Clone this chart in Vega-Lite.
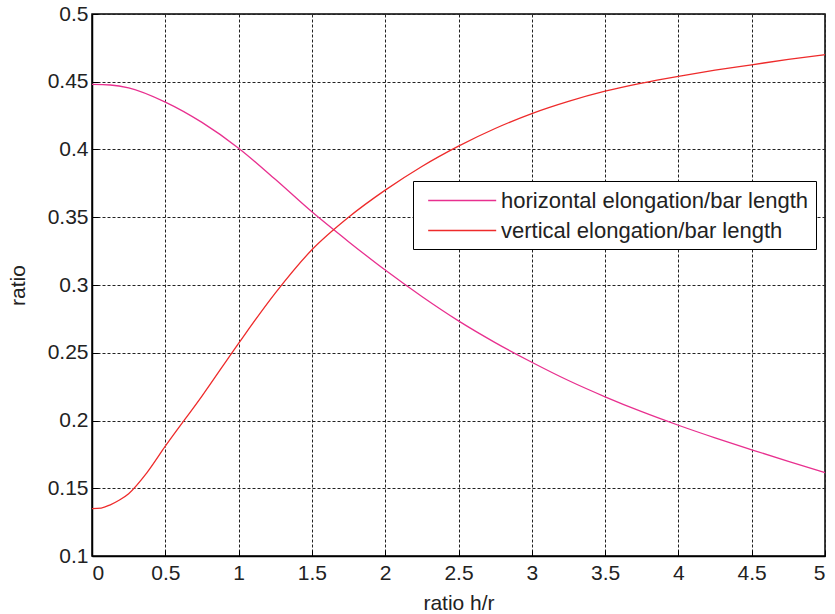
{
  "$schema": "https://vega.github.io/schema/vega-lite/v6.json",
  "width": 733,
  "height": 542,
  "autosize": {"type": "none"},
  "padding": {"left": 92, "top": 14, "right": 10, "bottom": 58},
  "background": "white",
  "config": {
    "font": "Liberation Sans",
    "view": {"stroke": "black", "strokeWidth": 1.5},
    "axis": {
      "labelFont": "Liberation Sans",
      "titleFont": "Liberation Sans",
      "labelFontSize": 21,
      "titleFontSize": 21,
      "labelColor": "#222",
      "titleColor": "#222",
      "titleFontWeight": "normal",
      "domainColor": "black",
      "domainWidth": 1.5,
      "tickColor": "black",
      "tickSize": -6,
      "grid": true,
      "gridColor": "#222",
      "gridDash": [3, 2],
      "gridWidth": 1,
      "gridOpacity": 1
    }
  },
  "data": {
    "values": [
      {"x": 0, "ratio": 0.448, "series": "horizontal elongation/bar length"},
      {"x": 0.125, "ratio": 0.4476, "series": "horizontal elongation/bar length"},
      {"x": 0.25, "ratio": 0.4455, "series": "horizontal elongation/bar length"},
      {"x": 0.5, "ratio": 0.435, "series": "horizontal elongation/bar length"},
      {"x": 0.75, "ratio": 0.42, "series": "horizontal elongation/bar length"},
      {"x": 1, "ratio": 0.401, "series": "horizontal elongation/bar length"},
      {"x": 1.25, "ratio": 0.378, "series": "horizontal elongation/bar length"},
      {"x": 1.5, "ratio": 0.354, "series": "horizontal elongation/bar length"},
      {"x": 1.75, "ratio": 0.332, "series": "horizontal elongation/bar length"},
      {"x": 2, "ratio": 0.311, "series": "horizontal elongation/bar length"},
      {"x": 2.25, "ratio": 0.2915, "series": "horizontal elongation/bar length"},
      {"x": 2.5, "ratio": 0.2735, "series": "horizontal elongation/bar length"},
      {"x": 2.75, "ratio": 0.2575, "series": "horizontal elongation/bar length"},
      {"x": 3, "ratio": 0.243, "series": "horizontal elongation/bar length"},
      {"x": 3.25, "ratio": 0.2295, "series": "horizontal elongation/bar length"},
      {"x": 3.5, "ratio": 0.2175, "series": "horizontal elongation/bar length"},
      {"x": 3.75, "ratio": 0.2065, "series": "horizontal elongation/bar length"},
      {"x": 4, "ratio": 0.1965, "series": "horizontal elongation/bar length"},
      {"x": 4.25, "ratio": 0.1872, "series": "horizontal elongation/bar length"},
      {"x": 4.5, "ratio": 0.1784, "series": "horizontal elongation/bar length"},
      {"x": 4.75, "ratio": 0.1698, "series": "horizontal elongation/bar length"},
      {"x": 5, "ratio": 0.1615, "series": "horizontal elongation/bar length"},
      {"x": 0, "ratio": 0.135, "series": "vertical elongation/bar length"},
      {"x": 0.0625, "ratio": 0.1354, "series": "vertical elongation/bar length"},
      {"x": 0.125, "ratio": 0.1378, "series": "vertical elongation/bar length"},
      {"x": 0.1875, "ratio": 0.1413, "series": "vertical elongation/bar length"},
      {"x": 0.25, "ratio": 0.146, "series": "vertical elongation/bar length"},
      {"x": 0.375, "ratio": 0.1615, "series": "vertical elongation/bar length"},
      {"x": 0.5, "ratio": 0.181, "series": "vertical elongation/bar length"},
      {"x": 0.75, "ratio": 0.218, "series": "vertical elongation/bar length"},
      {"x": 1, "ratio": 0.257, "series": "vertical elongation/bar length"},
      {"x": 1.25, "ratio": 0.294, "series": "vertical elongation/bar length"},
      {"x": 1.5, "ratio": 0.326, "series": "vertical elongation/bar length"},
      {"x": 1.75, "ratio": 0.35, "series": "vertical elongation/bar length"},
      {"x": 2, "ratio": 0.37, "series": "vertical elongation/bar length"},
      {"x": 2.25, "ratio": 0.3875, "series": "vertical elongation/bar length"},
      {"x": 2.5, "ratio": 0.4025, "series": "vertical elongation/bar length"},
      {"x": 2.75, "ratio": 0.4155, "series": "vertical elongation/bar length"},
      {"x": 3, "ratio": 0.4265, "series": "vertical elongation/bar length"},
      {"x": 3.25, "ratio": 0.4355, "series": "vertical elongation/bar length"},
      {"x": 3.5, "ratio": 0.443, "series": "vertical elongation/bar length"},
      {"x": 3.75, "ratio": 0.449, "series": "vertical elongation/bar length"},
      {"x": 4, "ratio": 0.454, "series": "vertical elongation/bar length"},
      {"x": 4.25, "ratio": 0.4585, "series": "vertical elongation/bar length"},
      {"x": 4.5, "ratio": 0.4625, "series": "vertical elongation/bar length"},
      {"x": 4.75, "ratio": 0.4665, "series": "vertical elongation/bar length"},
      {"x": 5, "ratio": 0.47, "series": "vertical elongation/bar length"}
    ]
  },
  "mark": {"type": "line", "strokeWidth": 1.3, "interpolate": "monotone"},
  "encoding": {
    "x": {
      "field": "x",
      "type": "quantitative",
      "scale": {"domain": [0, 5], "nice": false, "zero": false},
      "axis": {"values": [0, 0.5, 1, 1.5, 2, 2.5, 3, 3.5, 4, 4.5, 5], "title": "ratio h/r", "labelPadding": 12, "titleY": 36, "titleBaseline": "top", "format": "~g"}
    },
    "y": {
      "field": "ratio",
      "type": "quantitative",
      "scale": {"domain": [0.1, 0.5], "nice": false, "zero": false},
      "axis": {"values": [0.1, 0.15, 0.2, 0.25, 0.3, 0.35, 0.4, 0.45, 0.5], "title": "ratio", "labelPadding": 10, "titleX": -64, "format": "~g"}
    },
    "color": {
      "field": "series",
      "type": "nominal",
      "scale": {"domain": ["horizontal elongation/bar length", "vertical elongation/bar length"], "range": ["#e8308f", "#ee2b2b"]},
      "legend": {
        "title": null,
        "orient": "none",
        "legendX": 321,
        "legendY": 167,
        "symbolType": "M-0.382,0H5.618",
        "symbolSize": 514,
        "symbolStrokeWidth": 1.5,
        "labelFontSize": 22,
        "labelFont": "Liberation Sans",
        "labelColor": "#222",
        "labelLimit": 600,
        "strokeColor": "black",
        "fillColor": "white",
        "padding": 7,
        "rowPadding": 6,
        "labelOffset": 56
      }
    }
  }
}
